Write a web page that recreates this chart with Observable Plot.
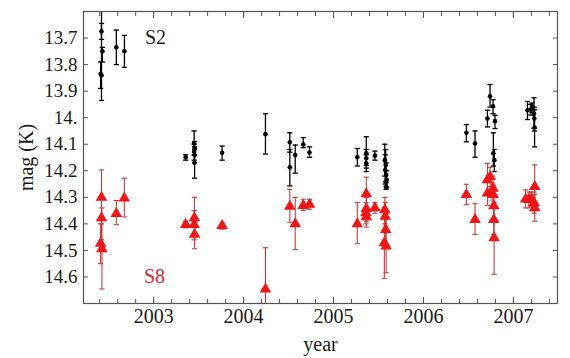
<!DOCTYPE html>
<html>
<head>
<meta charset="utf-8">
<script src="https://cdn.jsdelivr.net/npm/d3@7"></script>
<script src="https://cdn.jsdelivr.net/npm/@observablehq/plot@0.6"></script>
<style>
  html, body { margin: 0; padding: 0; background: #fff; }
  #chart { width: 570px; height: 358px; }
  #chart svg text { font-family: 'Liberation Serif', 'Times New Roman', serif; font-variant-numeric: normal; }
</style>
</head>
<body>
<div id="chart"></div>
<script>
// ---- data: S2 (black dots) ----
const s2Year = [2002.42, 2002.43, 2002.41, 2002.42, 2002.585, 2002.675,
  2003.356, 2003.45, 2003.455, 2003.45, 2003.455, 2003.455, 2003.761,
  2004.243, 2004.514, 2004.514, 2004.574, 2004.663, 2004.733,
  2005.264, 2005.364, 2005.364, 2005.364, 2005.46, 2005.57, 2005.58, 2005.575, 2005.585, 2005.59, 2005.585,
  2006.477, 2006.573, 2006.711, 2006.74, 2006.773, 2006.795, 2006.777, 2006.788,
  2007.156, 2007.193, 2007.207, 2007.229, 2007.232, 2007.235];
const s2Mag = [13.675, 13.75, 13.835, 13.84, 13.735, 13.75,
  14.149, 14.097, 14.116, 14.128, 14.141, 14.17, 14.132,
  14.062, 14.093, 14.187, 14.141, 14.101, 14.131,
  14.149, 14.134, 14.153, 14.172, 14.143, 14.16, 14.178, 14.197, 14.216, 14.234, 14.26,
  14.057, 14.097, 14.003, 13.919, 13.957, 14.013, 14.134, 14.16,
  13.972, 13.969, 13.96, 13.985, 14.003, 14.037];
const s2Lo = [13.645, 13.735, 13.79, 13.55, 13.67, 13.69,
  14.14, 14.05, 14.09, 14.10, 14.11, 14.12, 14.107,
  13.985, 14.057, 14.12, 14.103, 14.075, 14.11,
  14.116, 14.072, 14.12, 14.14, 14.126, 14.10, 14.12, 14.14, 14.17, 14.20, 14.245,
  14.026, 14.05, 13.972, 13.875, 13.932, 13.991, 14.057, 14.12,
  13.939, 13.95, 13.945, 13.925, 13.96, 13.97];
const s2Hi = [13.705, 13.79, 13.89, 13.935, 13.80, 13.81,
  14.16, 14.14, 14.14, 14.16, 14.17, 14.228, 14.16,
  14.137, 14.13, 14.257, 14.209, 14.113, 14.149,
  14.182, 14.18, 14.19, 14.203, 14.16, 14.22, 14.24, 14.25, 14.26, 14.264, 14.27,
  14.091, 14.149, 14.035, 13.96, 13.985, 14.041, 14.182, 14.203,
  14.007, 13.99, 13.98, 14.04, 14.05, 14.11];

// ---- data: S8 (red triangles) ----
const s8Year = [2002.42, 2002.42, 2002.41, 2002.425, 2002.585, 2002.674,
  2003.356, 2003.453, 2003.45, 2003.455, 2003.761,
  2004.243, 2004.514, 2004.574, 2004.663, 2004.733,
  2005.264, 2005.364, 2005.364, 2005.36, 2005.364, 2005.46, 2005.57, 2005.575, 2005.58, 2005.565, 2005.585,
  2006.477, 2006.573, 2006.711, 2006.711, 2006.74, 2006.773, 2006.775, 2006.782, 2006.782, 2006.785,
  2007.136, 2007.171, 2007.199, 2007.237, 2007.237, 2007.23];
const s8Mag = [14.30, 14.378, 14.474, 14.494, 14.362, 14.303,
  14.403, 14.378, 14.403, 14.44, 14.407,
  14.646, 14.334, 14.40, 14.331, 14.327,
  14.40, 14.287, 14.343, 14.359, 14.374, 14.34, 14.347, 14.372, 14.422, 14.472, 14.484,
  14.29, 14.384, 14.234, 14.284, 14.222, 14.266, 14.29, 14.332, 14.384, 14.453,
  14.307, 14.309, 14.307, 14.26, 14.34, 14.32];
const s8Lo = [14.197, 14.30, 14.40, 14.34, 14.312, 14.228,
  14.39, 14.30, 14.35, 14.39, 14.395,
  14.49, 14.27, 14.30, 14.307, 14.309,
  14.32, 14.224, 14.30, 14.32, 14.34, 14.32, 14.30, 14.32, 14.35, 14.34, 14.36,
  14.251, 14.324, 14.172, 14.24, 14.187, 14.22, 14.25, 14.29, 14.33, 14.32,
  14.272, 14.28, 14.28, 14.178, 14.29, 14.28];
const s8Hi = [14.40, 14.46, 14.55, 14.645, 14.403, 14.374,
  14.415, 14.44, 14.46, 14.494, 14.42,
  14.80, 14.394, 14.497, 14.35, 14.345,
  14.475, 14.35, 14.39, 14.40, 14.412, 14.36, 14.40, 14.43, 14.49, 14.605, 14.584,
  14.328, 14.44, 14.29, 14.33, 14.26, 14.31, 14.33, 14.38, 14.44, 14.59,
  14.34, 14.34, 14.335, 14.34, 14.39, 14.36];

// ---- ticks and labels ----
const xTicks = [2003, 2004, 2005, 2006, 2007];
const xTickLabels = ["2003", "2004", "2005", "2006", "2007"];
const xMinorTicks = d3.range(2002.4, 2007.45, 0.2).map(v => +v.toFixed(1));
const yTicks = [13.7, 13.8, 13.9, 14.0, 14.1, 14.2, 14.3, 14.4, 14.5, 14.6];
const yTickLabels = ["13.7", "13.8", "13.9", "14.", "14.1", "14.2", "14.3", "14.4", "14.5", "14.6"];
const seriesNames = ["S2", "S8"];
const xLabel = "year";
const yLabel = "mag (K)";

const toRows = (X, Y, L, H) => X.map((x, i) => ({x, y: Y[i], lo: L[i], hi: H[i]}));
const s2 = toRows(s2Year, s2Mag, s2Lo, s2Hi);
const s8 = toRows(s8Year, s8Mag, s8Lo, s8Hi);

const cap = {draw(ctx) { ctx.moveTo(-2.6, 0); ctx.lineTo(2.6, 0); }};

const RED = "#f01414", RED_BAR = "#cc3a3a", FRAME = "#555";
const font = "Liberation Serif";

const errMarks = (data, color, w) => [
  Plot.ruleX(data, {x: "x", y1: "lo", y2: "hi", stroke: color, strokeWidth: w, clip: true}),
  Plot.dot(data, {x: "x", y: "lo", symbol: cap, stroke: color, fill: "none", strokeWidth: w, clip: true}),
  Plot.dot(data, {x: "x", y: "hi", symbol: cap, stroke: color, fill: "none", strokeWidth: w, clip: true})
];

const tickOnly = {label: null, fill: "none", stroke: FRAME, strokeWidth: 1};
const txt = {fontFamily: font, fontSize: 20, fill: "#1a1a1a"};

const chart = Plot.plot({
  width: 570, height: 358,
  marginLeft: 83, marginRight: 13, marginTop: 11, marginBottom: 55,
  style: {fontFamily: font, fontSize: "20px", color: "#1a1a1a", background: "#fff"},
  x: {domain: [2002.22, 2007.49]},
  y: {domain: [13.6, 14.7], reverse: true},
  marks: [
    ...errMarks(s8, RED_BAR, 1.1),
    Plot.dot(s8, {x: "x", y: "y", symbol: "triangle", r: 4.3, fill: RED, stroke: "none"}),
    ...errMarks(s2, "#000", 1.3),
    Plot.dot(s2, {x: "x", y: "y", r: 2.3, fill: "#000", stroke: "none"}),
    // inward ticks on all four sides
    Plot.axisX({anchor: "bottom", ticks: xMinorTicks, tickSize: -4, ...tickOnly}),
    Plot.axisX({anchor: "top", ticks: xMinorTicks, tickSize: -4, ...tickOnly}),
    Plot.axisX({anchor: "bottom", ticks: xTicks, tickSize: -6, ...tickOnly}),
    Plot.axisX({anchor: "top", ticks: xTicks, tickSize: -6, ...tickOnly}),
    Plot.axisY({anchor: "left", ticks: yTicks, tickSize: -5, ...tickOnly}),
    Plot.axisY({anchor: "right", ticks: yTicks, tickSize: -5, ...tickOnly}),
    // tick labels
    Plot.axisX({anchor: "bottom", ticks: xTicks, tickSize: 0, tickPadding: 5, tickFormat: (d, i) => xTickLabels[i], label: null, ...txt}),
    Plot.axisY({anchor: "left", ticks: yTicks, tickSize: 0, tickPadding: 6, tickFormat: (d, i) => yTickLabels[i], label: null, ...txt, fontSize: 19}),
    Plot.frame({stroke: FRAME, strokeWidth: 1.2}),
    // axis titles
    Plot.text([xLabel], {text: d => d, frameAnchor: "bottom", lineAnchor: "middle", dy: 41, ...txt}),
    Plot.text([yLabel], {text: d => d, frameAnchor: "left", textAnchor: "middle", lineAnchor: "middle", dx: -57, dy: 0, rotate: -90, ...txt}),
    // series labels
    Plot.text([seriesNames[0]], {text: d => d, frameAnchor: "top-left", textAnchor: "middle", lineAnchor: "middle", dx: 72, dy: 26, ...txt}),
    Plot.text([seriesNames[1]], {text: d => d, frameAnchor: "bottom-left", textAnchor: "middle", lineAnchor: "middle", dx: 71, dy: -27, ...txt, fill: "#e0262e"})
  ]
});
document.getElementById("chart").appendChild(chart);
</script>
</body>
</html>
